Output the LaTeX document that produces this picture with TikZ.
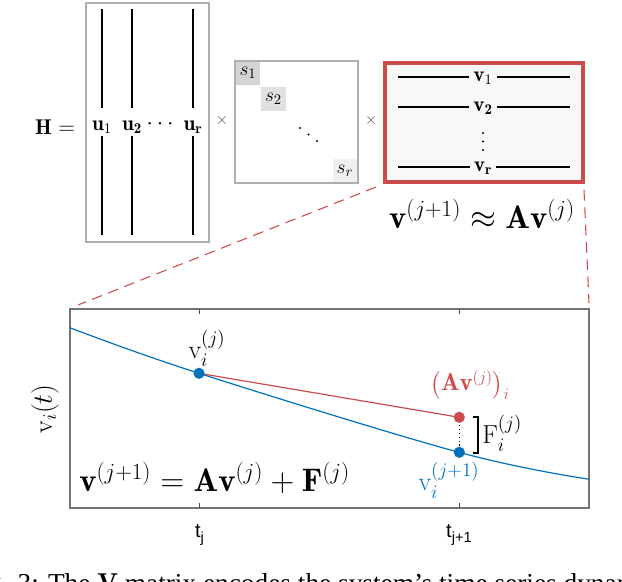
\documentclass[tikz,border=0pt]{standalone}
\usepackage{fontspec}
\usepackage{amsmath}
\newfontfamily\capfont{Liberation Serif}
\newfontfamily\axfont{Liberation Sans}
\definecolor{mred}{RGB}{205,75,75}
\definecolor{mblue}{RGB}{0,114,189}
\definecolor{boxgray}{RGB}{175,175,175}
\definecolor{vfill}{RGB}{248,248,248}
\begin{document}
\begin{tikzpicture}[x=0.75pt,y=-0.75pt,
  matfont/.style={font=\fontsize{16}{18}\selectfont, inner sep=1pt},
  sfont/.style={font=\fontsize{15}{17}\selectfont, inner sep=0pt},
  plotfont/.style={font=\fontsize{19.5}{22}\selectfont, inner sep=0pt},
  bigeq/.style={font=\fontsize{24.5}{28}\selectfont, inner sep=0pt},
  tickfont/.style={font=\fontsize{15}{17}\axfont, inner sep=0pt},
  ulinestyle/.style={line width=0.9pt},
  dot/.style={circle, inner sep=0pt, minimum size=8.5pt},
  smalldot/.style={circle, fill=black, inner sep=0pt, minimum size=1.7pt},
  reddash/.style={mred, line width=0.8pt, dash pattern=on 8pt off 5pt}]
\useasboundingbox (0,0) rectangle (622,582);
\clip (0,0) rectangle (622,582);
% ---------- U matrix
\node[draw=boxgray, line width=1.2pt, minimum width=92.25pt, minimum height=179.25pt, inner sep=0pt] (U) at (147.5,122.2) {};
\node[matfont] (H) at (55,127) {$\mathbf{H} =$};
\foreach \xx in {102,132,193}{
  \draw[ulinestyle] (\xx,9) -- (\xx,108);
  \draw[ulinestyle] (\xx,136) -- (\xx,235);
}
\node[matfont] (u1) at (102,127) {$\mathbf{u}_1$};
\node[matfont] (u2) at (132,127) {$\mathbf{u}_\mathbf{2}$};
\node[matfont] (ud) at (162,124) {$\cdots$};
\node[matfont] (ur) at (193,127) {$\mathbf{u}_\mathbf{r}$};
\node[font=\fontsize{12}{14}\selectfont, text=black!70] (x1) at (222,120) {$\times$};
% ---------- S matrix
\node[draw=boxgray, line width=0.9pt, minimum width=92.25pt, minimum height=91.5pt, inner sep=0pt] (S) at (296.5,122) {};
\fill[black!17] (236,62) rectangle (260,85);
\fill[black!12] (261,87) rectangle (286,111);
\fill[black!6] (333,159) rectangle (357,182);
\node[sfont] (s1) at (248,73) {$s_1$};
\node[sfont] (s2) at (273.5,99) {$s_2$};
\node[smalldot] (sd1) at (300,128) {};
\node[smalldot] (sd2) at (308.5,134.5) {};
\node[smalldot] (sd3) at (317,141) {};
\node[sfont] (sr) at (345,171) {$s_r$};
\node[font=\fontsize{12}{14}\selectfont, text=black!70] (x2) at (371,120) {$\times$};
% ---------- V matrix
\node[draw=mred, fill=vfill, line width=3pt, minimum width=148.5pt, minimum height=89.25pt, inner sep=0pt] (V) at (484,122.5) {};
\foreach \yy in {77,107,167}{ \draw[line width=0.8pt] (398,\yy) -- (570,\yy); }
\node[matfont, fill=vfill, inner xsep=3pt, inner ysep=0pt] (v1) at (483,78) {$\mathbf{v}_1$};
\node[matfont, fill=vfill, inner xsep=3pt, inner ysep=0pt] (v2) at (483,108) {$\mathbf{v}_\mathbf{2}$};
\node[smalldot] (vd1) at (483,133) {};
\node[smalldot] (vd2) at (483,141.5) {};
\node[smalldot] (vd3) at (483,150) {};
\node[matfont, fill=vfill, inner xsep=3pt, inner ysep=0pt] (vr) at (483,168) {$\mathbf{v}_\mathbf{r}$};
\node[bigeq] (approx) at (482,214) {$\mathbf{v}^{(j+1)} \approx \mathbf{A}\mathbf{v}^{(j)}$};
% ---------- plot
\node[draw=black!55, line width=0.9pt, minimum width=389.25pt, minimum height=149.25pt, inner sep=0pt] (P) at (329.5,408.5) {};
\coordinate (dl1) at (376,187);
\coordinate (dl2) at (78,305);
\coordinate (dr1) at (584,190);
\coordinate (dr2) at (589,303);
\draw[reddash] (dl1) -- (dl2);
\draw[reddash] (dr1) -- (dr2);
\foreach \xx in {199.5,459}{
  \draw[black!70, line width=0.6pt] (\xx,309) -- (\xx,314);
  \draw[black!70, line width=0.6pt] (\xx,508) -- (\xx,503);
}
\begin{scope}
\clip (70,309) rectangle (589,508);
\draw[mblue, line width=0.9pt] plot[smooth, tension=0.6] coordinates {(68,327) (199,373.3) (459,452.3) (591,479.5)};
\end{scope}
\node[dot] (pj) at (199,373.3) {};
\node[dot] (pr) at (459.3,417.3) {};
\node[dot] (pb) at (459.3,452.3) {};
\draw[mred, line width=0.9pt] (pj.center) -- (pr.center);
\draw[dotted, line width=0.9pt] (pr.center) -- (pb.center);
\fill[mblue] (pj) circle (4.2pt);
\fill[mred] (pr) circle (4.2pt);
\fill[mblue] (pb) circle (4.2pt);
\draw[line width=0.8pt] (473,417) -- (478,417) -- (478,453) -- (473,453);
\node[plotfont, anchor=west] (F) at (482,433) {$\mathrm{F}_i^{(j)}$};
\node[plotfont] (lvj) at (207,348) {$\mathrm{v}_i^{(j)}$};
\node[font=\fontsize{18.5}{21}\selectfont, inner sep=0pt, text=mred] (lAv) at (470,385) {$\big(\mathbf{A}\mathbf{v}^{(j)}\big)_i$};
\node[plotfont, text=mblue] (lvb) at (449,480) {$\mathrm{v}_i^{(j+1)}$};
\node[bigeq, anchor=west] (eq) at (79,478) {$\mathbf{v}^{(j+1)} = \mathbf{A}\mathbf{v}^{(j)} + \mathbf{F}^{(j)}$};
\node[plotfont, rotate=90] (ylab) at (45,409) {$\mathrm{v}_i(t)$};
\node[tickfont, anchor=base] (tj) at (199.5,537) {t\raisebox{-0.55ex}{\fontsize{11}{13}\selectfont j}};
\node[tickfont, anchor=base] (tj1) at (459,537) {t\raisebox{-0.55ex}{\fontsize{11}{13}\selectfont j+1}};
% ---------- caption (cut off)
\node[font=\fontsize{20.5}{24}\capfont, anchor=base west, inner sep=0pt] (cap) at (-35,592) {Fig. 3: The $\mathbf{V}$ matrix encodes the system’s time series dynamics};
\end{tikzpicture}
\end{document}
